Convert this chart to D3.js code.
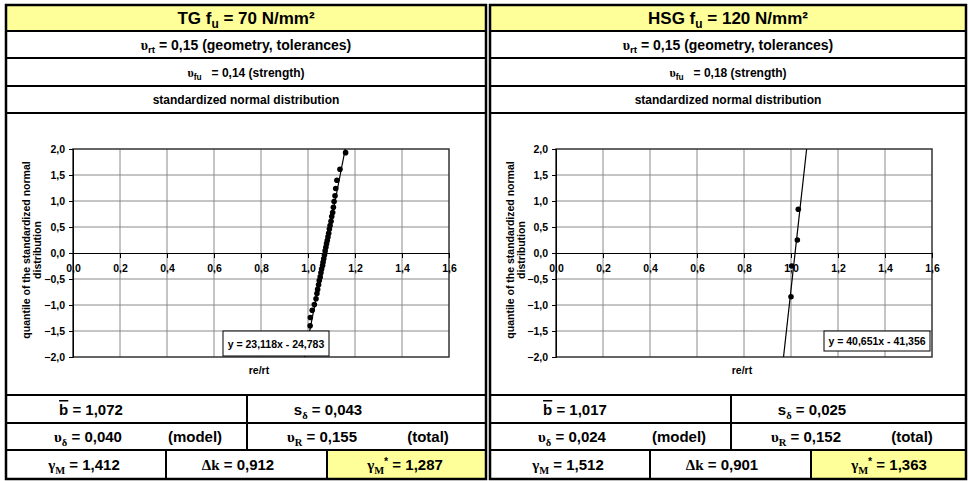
<!DOCTYPE html>
<html><head><meta charset="utf-8">
<script src="https://cdn.jsdelivr.net/npm/d3@7"></script>
<style>body{margin:0;background:#fff}svg{display:block;font-family:"Liberation Sans",Arial,sans-serif}</style>
</head><body>
<svg id="c" width="968" height="481"></svg>
<script>
// ---- data ----
const xTicks = [0, 0.2, 0.4, 0.6, 0.8, 1.0, 1.2, 1.4, 1.6];
const yTicks = [-2.0, -1.5, -1.0, -0.5, 0.0, 0.5, 1.0, 1.5, 2.0];
const tgRatio = [0.990, 1.001, 1.009, 1.010, 1.018, 1.027, 1.034, 1.038, 1.041, 1.045, 1.048, 1.052,
  1.055, 1.058, 1.062, 1.064, 1.067, 1.070, 1.073, 1.076, 1.079, 1.082, 1.085, 1.088,
  1.091, 1.094, 1.098, 1.101, 1.105, 1.108, 1.111, 1.115, 1.118, 1.123, 1.136, 1.160];
const tgQuantile = [-1.93, -1.61, -1.40, -1.24, -1.10, -0.99, -0.88, -0.78, -0.70, -0.61, -0.53, -0.46,
  -0.38, -0.31, -0.24, -0.18, -0.11, -0.04, 0.04, 0.11, 0.18, 0.24, 0.31, 0.38,
  0.46, 0.53, 0.61, 0.70, 0.78, 0.88, 0.99, 1.10, 1.24, 1.40, 1.61, 1.93];
const hsgRatio = [1.000, 1.003, 1.027, 1.031];
const hsgQuantile = [-0.84, -0.25, 0.25, 0.84];
const tgTrend = [23.118, -24.783];
const hsgTrend = [40.651, -41.356];
const tgStats = ["1,072", "0,043", "0,040", "0,155", "1,412", "0,912", "1,287"];
const hsgStats = ["1,017", "0,025", "0,024", "0,152", "1,512", "0,901", "1,363"];

const panels = [
  {x0: 6, x1: 486, pl: 67, title: [{t: "TG f"}, {t: "u", sub: 1}, {t: " = 70 N/mm²"}], vfu: "0,14",
   ratio: tgRatio, q: tgQuantile, trend: tgTrend, stats: tgStats, boxL: 150, boxW: 106, boxT: 331, boxH: 25},
  {x0: 490, x1: 966, pl: 66, title: [{t: "HSG f"}, {t: "u", sub: 1}, {t: " = 120 N/mm²"}], vfu: "0,18",
   ratio: hsgRatio, q: hsgQuantile, trend: hsgTrend, stats: hsgStats, boxL: 267, boxW: 106, boxT: 331, boxH: 20}
];

const svg = d3.select("#c");
const fmt = v => d3.format(".1f")(v).replace(".", ",");
const greek = '"Liberation Serif","Times New Roman",serif';

function rich(g, x, y, parts, size, anchor) {
  const t = g.append("text").attr("x", x).attr("y", y).attr("text-anchor", anchor || "middle")
    .attr("font-size", size).attr("font-weight", "bold").attr("fill", "#000")
    .style("white-space", "pre");
  let shift = 0;
  parts.forEach(p => {
    const ts = t.append("tspan").text(p.t);
    let target = 0;
    if (p.sub) target = size * 0.25;
    if (p.sup) target = -size * 0.35;
    if (p.sub || p.sup) ts.attr("font-size", size * 0.7);
    if (target !== shift) { ts.attr("dy", target - shift); shift = target; }
    if (p.g) ts.attr("font-family", greek);
    if (p.over) ts.style("text-decoration", "overline");
  });
  return t;
}

panels.forEach((P, pi) => {
  const g = svg.append("g");
  const W = P.x1 - P.x0;
  // backgrounds
  g.append("rect").attr("x", P.x0).attr("y", 5).attr("width", W).attr("height", 26).attr("fill", "#ffff99");
  g.append("rect").attr("x", P.x0 + 321).attr("y", 450).attr("width", P.x1 - P.x0 - 321).attr("height", 29).attr("fill", "#ffff99");

  // texts
  rich(g, (P.x0 + P.x1) / 2, 24, P.title, 17);
  rich(g, (P.x0 + P.x1) / 2, 49.5, [{t: "υ", g: 1}, {t: "rt", sub: 1}, {t: " = 0,15 (geometry, tolerances)"}], 14);
  rich(g, (P.x0 + P.x1) / 2, 77, [{t: "υ", g: 1}, {t: "fu", sub: 1}, {t: "\u00a0\u00a0\u00a0= " + P.vfu + " (strength)"}], 12);
  rich(g, (P.x0 + P.x1) / 2, 104, [{t: "standardized normal distribution"}], 12);

  const s = P.stats;
  rich(g, P.x0 + 85, 415, [{t: "b", over: 1}, {t: " = " + s[0]}], 15);
  rich(g, P.x0 + 322, 415, [{t: "s"}, {t: "δ", sub: 1, g: 1}, {t: " = " + s[1]}], 15);
  rich(g, P.x0 + 82, 442, [{t: "υ", g: 1}, {t: "δ", sub: 1, g: 1}, {t: " = " + s[2]}], 15);
  rich(g, P.x0 + 189, 442, [{t: "(model)"}], 15);
  rich(g, P.x0 + 316, 442, [{t: "υ", g: 1}, {t: "R", sub: 1, g: 1}, {t: " = " + s[3]}], 15);
  rich(g, P.x0 + 422, 442, [{t: "(total)"}], 15);
  rich(g, P.x0 + 78, 470, [{t: "γ", g: 1}, {t: "M", sub: 1, g: 1}, {t: " = " + s[4]}], 15);
  rich(g, P.x0 + 232, 470, [{t: "Δk", g: 1}, {t: " = " + s[5]}], 15);
  rich(g, P.x0 + 399, 470, [{t: "γ", g: 1}, {t: "M", sub: 1, g: 1}, {t: "*", sup: 1}, {t: " = " + s[6]}], 15);

  // chart
  const L = P.x0 + P.pl, R = L + 376, T = 149, B = 357;
  const x = d3.scaleLinear().domain([0, 1.6]).range([L, R]);
  const y = d3.scaleLinear().domain([-2, 2]).range([B, T]);
  const cg = g.append("g");
  cg.append("g").selectAll("line").data(xTicks.slice(1, -1)).join("line")
    .attr("x1", d => x(d)).attr("x2", d => x(d)).attr("y1", T).attr("y2", B)
    .attr("stroke", "#8a8a8a").attr("stroke-width", 1);
  cg.append("g").selectAll("line").data(yTicks.slice(1, -1).filter(d => d !== 0)).join("line")
    .attr("x1", L).attr("x2", R).attr("y1", d => y(d)).attr("y2", d => y(d))
    .attr("stroke", "#8a8a8a").attr("stroke-width", 1);
  cg.append("rect").attr("x", L).attr("y", T).attr("width", R - L).attr("height", B - T)
    .attr("fill", "none").attr("stroke", "#333").attr("stroke-width", 1.5);

  // y axis
  const ya = d3.axisLeft(y).tickValues(yTicks).tickSize(4).tickFormat(fmt);
  const yg = cg.append("g").attr("transform", `translate(${L},0)`).call(ya);
  yg.select(".domain").attr("stroke", "#000");
  yg.selectAll("text").attr("font-size", 10.5).attr("font-weight", "bold").attr("fill", "#000")
    .attr("font-family", '"Liberation Sans",Arial,sans-serif').attr("x", -8);
  // x axis at y=0
  const xa = d3.axisBottom(x).tickValues(xTicks).tickSize(5).tickSizeOuter(0).tickFormat(fmt);
  const xg = cg.append("g").attr("transform", `translate(0,${y(0)})`).call(xa);
  xg.select(".domain").attr("stroke", "#000");
  xg.selectAll("text").attr("font-size", 10.5).attr("font-weight", "bold").attr("fill", "#000")
    .attr("font-family", '"Liberation Sans",Arial,sans-serif').attr("y", 12);

  // axis titles
  const yt = cg.append("text").attr("transform", `translate(${P.x0 + 24},${(T + B) / 2 - 3}) rotate(-90)`)
    .attr("text-anchor", "middle").attr("font-size", 10.5).attr("font-weight", "bold");
  yt.append("tspan").attr("x", 0).attr("dy", 0).text("quantile of the standardized normal");
  yt.append("tspan").attr("x", 0).attr("dy", 11).text("distribution");
  cg.append("text").attr("x", (L + R) / 2 - 2).attr("y", 374).attr("text-anchor", "middle")
    .attr("font-size", 10.5).attr("font-weight", "bold").text("re/rt");

  // trend line + points
  const clipId = "clip" + pi;
  svg.append("clipPath").attr("id", clipId).append("rect")
    .attr("x", L).attr("y", T).attr("width", R - L).attr("height", B - T);
  const [m, c] = P.trend;
  const tl = [-2, 2].map(v => [(v - c) / m, v]);
  cg.append("line").attr("clip-path", `url(#${clipId})`)
    .attr("x1", x(tl[0][0])).attr("y1", y(tl[0][1])).attr("x2", x(tl[1][0])).attr("y2", y(tl[1][1]))
    .attr("stroke", "#000").attr("stroke-width", 1.2);
  cg.append("g").selectAll("circle").data(P.ratio.map((r, i) => [r, P.q[i]])).join("circle")
    .attr("cx", d => x(d[0])).attr("cy", d => y(d[1])).attr("r", 2.8).attr("fill", "#000");

  // equation box
  const bx = P.x0 + P.boxL + 67;
  cg.append("rect").attr("x", bx).attr("y", P.boxT).attr("width", P.boxW).attr("height", P.boxH)
    .attr("fill", "#fff").attr("stroke", "#000").attr("stroke-width", 1);
  cg.append("text").attr("x", bx + P.boxW / 2).attr("y", P.boxT + P.boxH / 2 + 4).attr("text-anchor", "middle")
    .attr("font-size", 10.5).attr("font-weight", "bold")
    .text(`y = ${String(m).replace(".", ",")}x - ${String(-c).replace(".", ",")}`);

  // grid lines of table
  const lines = g.append("g").attr("stroke", "#000").attr("stroke-width", 2);
  [31, 58, 86, 113, 395, 423, 450].forEach(yy =>
    lines.append("line").attr("x1", P.x0).attr("x2", P.x1).attr("y1", yy).attr("y2", yy));
  lines.append("line").attr("x1", P.x0 + 241).attr("x2", P.x0 + 241).attr("y1", 395).attr("y2", 450);
  [160, 321].forEach(o => lines.append("line").attr("x1", P.x0 + o).attr("x2", P.x0 + o).attr("y1", 450).attr("y2", 479));
  g.append("rect").attr("x", P.x0).attr("y", 5).attr("width", W).attr("height", 474)
    .attr("fill", "none").attr("stroke", "#000").attr("stroke-width", 2.5);
});
</script>
</body></html>
